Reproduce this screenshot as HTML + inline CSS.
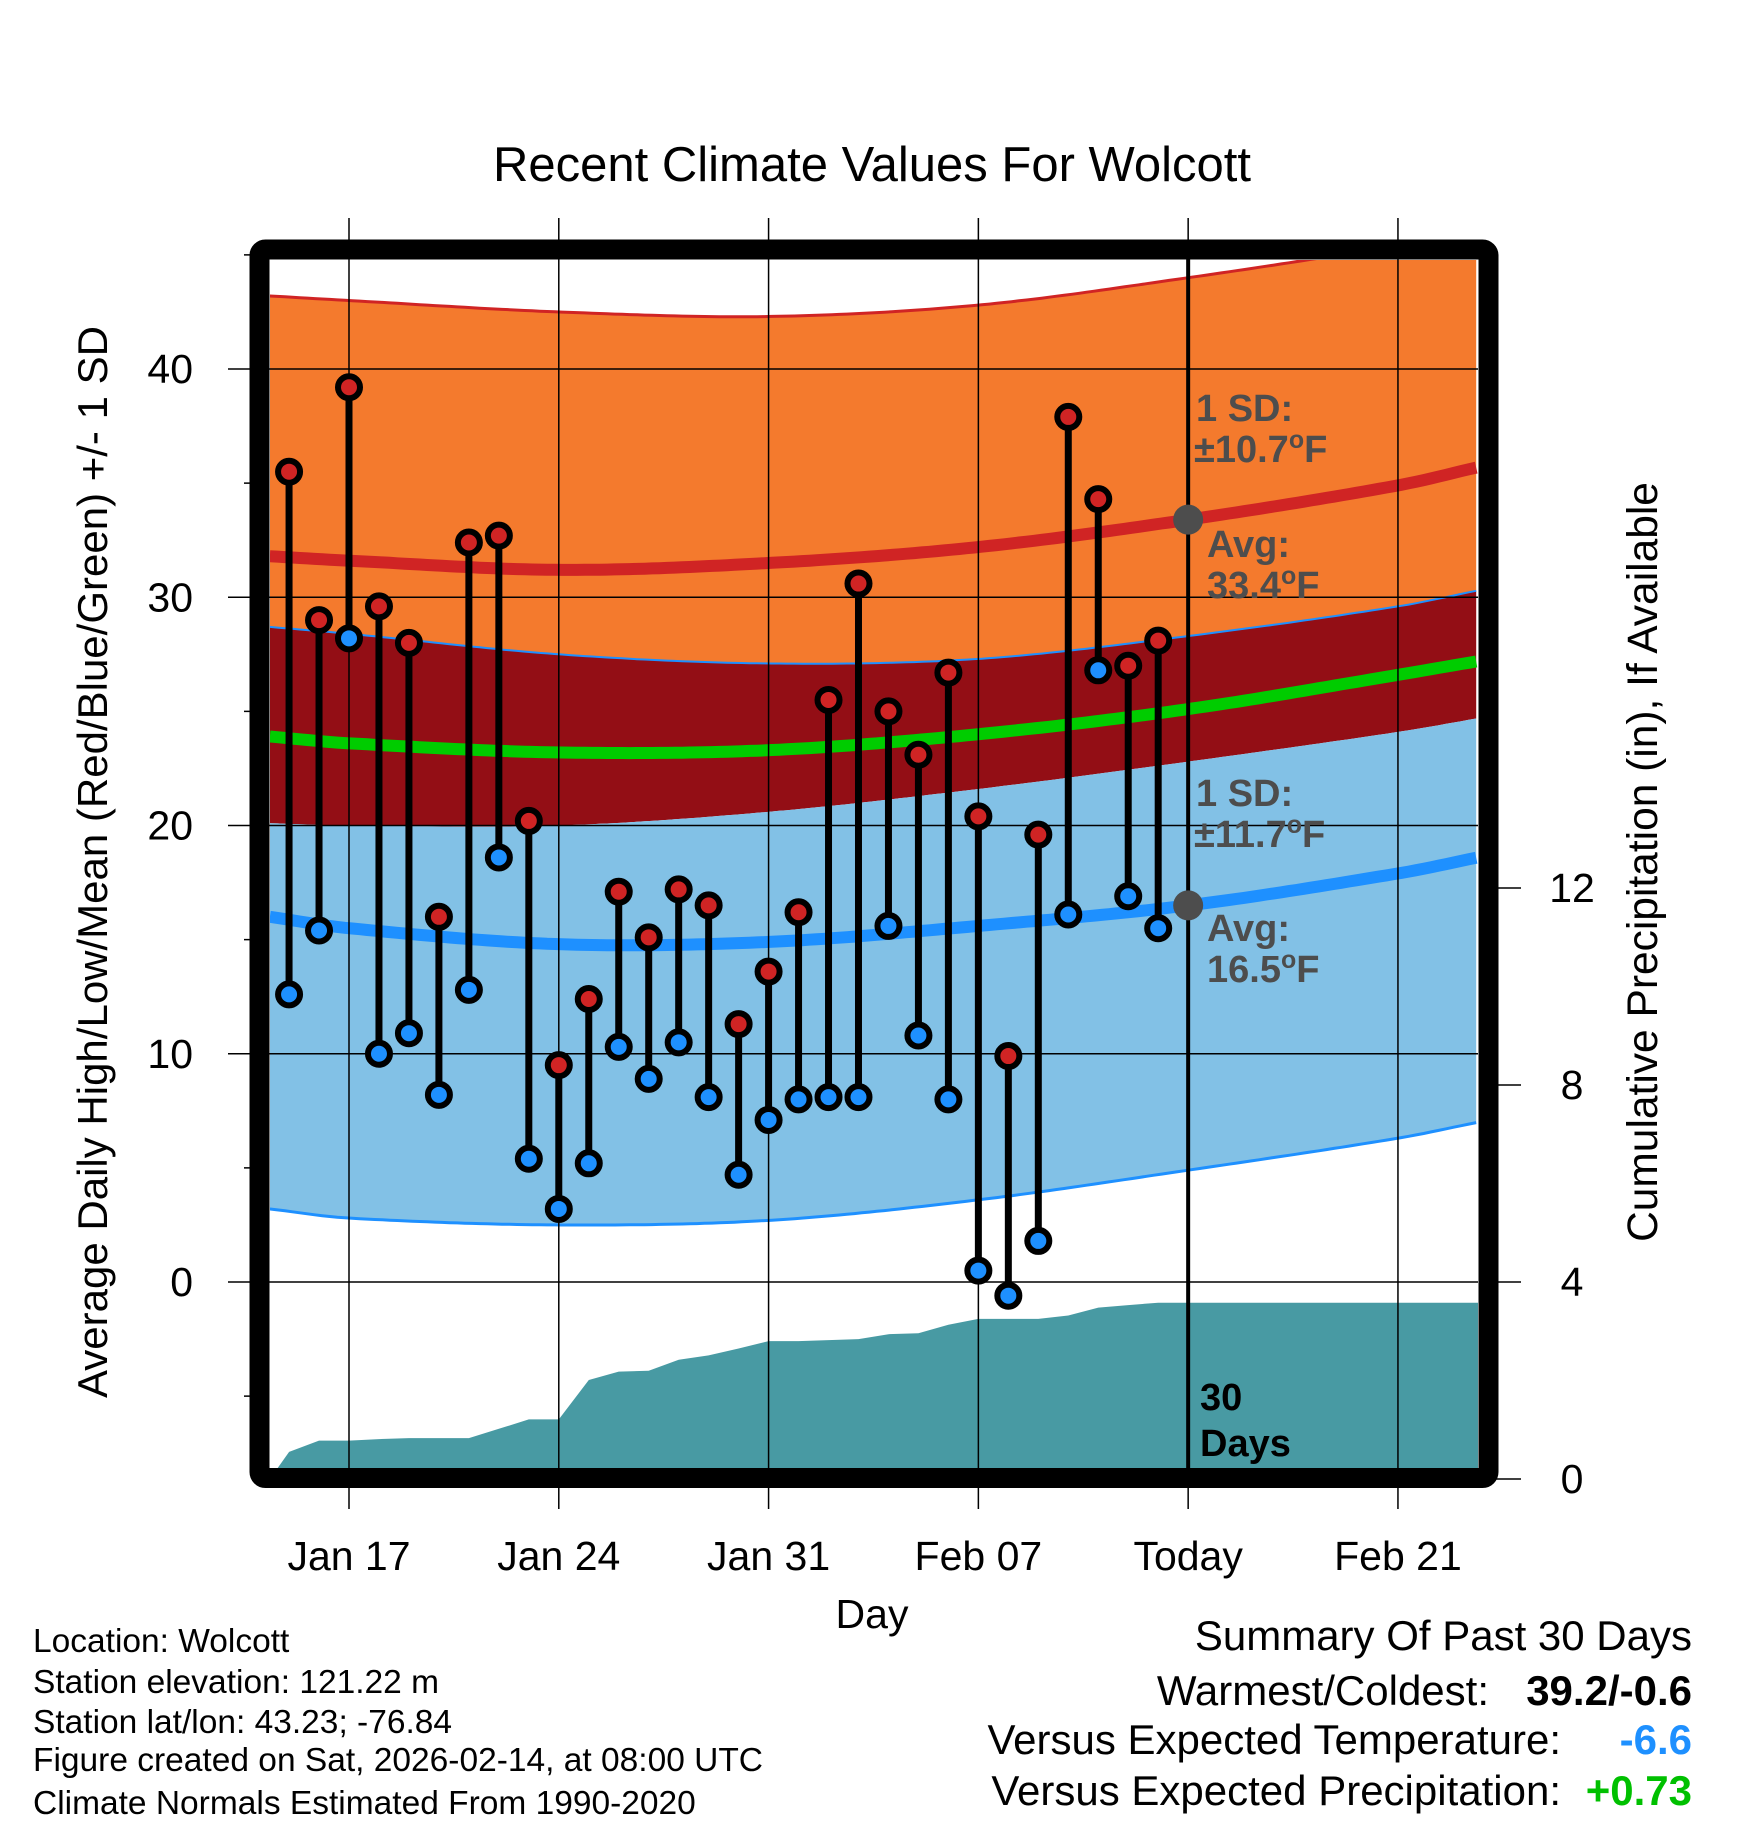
<!DOCTYPE html>
<html><head><meta charset="utf-8"><style>
html,body{margin:0;padding:0;background:#fff}
svg{display:block;font-family:"Liberation Sans",sans-serif}
</style></head><body>
<svg id="chart" width="1748" height="1828" viewBox="0 0 1748 1828">
<defs><clipPath id="plotclip"><rect x="270" y="260" width="1208" height="1208"/></clipPath></defs>
<text x="872" y="181" font-size="49" text-anchor="middle">Recent Climate Values For Wolcott</text>
<g id="bands" clip-path="url(#plotclip)"></g>
<g id="grid"></g>
<g id="marks"></g>
<rect x="259.5" y="249.5" width="1229" height="1228.5" rx="6" fill="none" stroke="#000" stroke-width="20"/>
<g id="axes"></g>
<g font-family="Liberation Sans, sans-serif" font-size="33.5">
<text x="33" y="1652">Location: Wolcott</text>
<text x="33" y="1693">Station elevation: 121.22 m</text>
<text x="33" y="1733">Station lat/lon: 43.23; -76.84</text>
<text x="33" y="1771">Figure created on Sat, 2026-02-14, at 08:00 UTC</text>
<text x="33" y="1814">Climate Normals Estimated From 1990-2020</text>
</g>
<g font-size="42" text-anchor="end">
<text x="1692" y="1650">Summary Of Past 30 Days</text>
<text x="1489" y="1705">Warmest/Coldest:</text>
<text x="1692" y="1705" font-weight="bold">39.2/-0.6</text>
<text x="1561" y="1754">Versus Expected Temperature:</text>
<text x="1692" y="1754" font-weight="bold" fill="#1E90FF">-6.6</text>
<text x="1561" y="1805">Versus Expected Precipitation:</text>
<text x="1692" y="1805" font-weight="bold" fill="#00C000">+0.73</text>
</g>
</svg>
<script>
const normDays=[-2.64,0,7,14,21,28,35,37.67];
const highUpper=[43.2,43.0,42.5,42.3,42.8,44.0,45.4,46.0];
const highAvg=[31.8,31.6,31.2,31.5,32.2,33.4,34.9,35.7];
const lowUpper=[28.7,28.4,27.5,27.1,27.3,28.3,29.6,30.3];
const meanAvg=[23.9,23.6,23.2,23.3,24.0,25.1,26.6,27.2];
const highLower=[20.1,20.0,20.0,20.6,21.6,22.8,24.1,24.7];
const lowAvg=[16.0,15.5,14.8,14.9,15.6,16.5,17.9,18.6];
const lowLower=[3.2,2.8,2.5,2.7,3.6,4.9,6.3,7.0];
const highs=[35.5,29.0,39.2,29.6,28.0,16.0,32.4,32.7,20.2,9.5,12.4,17.1,15.1,17.2,16.5,11.3,13.6,16.2,25.5,30.6,25.0,23.1,26.7,20.4,9.9,19.6,37.9,34.3,27.0,28.1];
const lows=[12.6,15.4,28.2,10.0,10.9,8.2,12.8,18.6,5.4,3.2,5.2,10.3,8.9,10.5,8.1,4.7,7.1,8.0,8.1,8.1,15.6,10.8,8.0,0.5,-0.6,1.8,16.1,26.8,16.9,15.5];
const precip=[0.55,0.78,0.78,0.81,0.83,0.83,0.83,1.02,1.21,1.21,2.01,2.18,2.2,2.42,2.51,2.65,2.8,2.8,2.82,2.84,2.94,2.96,3.13,3.25,3.25,3.25,3.32,3.48,3.53,3.58,3.58];
const xTickDays=[0,7,14,21,28,35];
const xTickLabels=["Jan 17","Jan 24","Jan 31","Feb 07","Today","Feb 21"];
const yTicks=[0,10,20,30,40];
const pTicks=[0,4,8,12];
const firstDay=-2;
const X=d=>349+29.97*d;
const Y=v=>1282-22.825*v;
const YP=p=>1479-49.25*p;
const NS='http://www.w3.org/2000/svg';
function mk(tag,attrs,parent){const e=document.createElementNS(NS,tag);for(const k in attrs)e.setAttribute(k,attrs[k]);parent.appendChild(e);return e;}
function interp(arr,d){const n=normDays.length;for(let i=0;i<n-1;i++){if(d<=normDays[i+1]||i===n-2){const x0=normDays[i],x1=normDays[i+1];const t=Math.min(Math.max((d-x0)/(x1-x0),0),1);const h=x1-x0;
const m0=i>0?(arr[i+1]-arr[i-1])/(normDays[i+1]-normDays[i-1]):(arr[i+1]-arr[i])/h;
const m1=i<n-2?(arr[i+2]-arr[i])/(normDays[i+2]-normDays[i]):(arr[i+1]-arr[i])/h;
const t2=t*t,t3=t2*t;return (2*t3-3*t2+1)*arr[i]+(t3-2*t2+t)*h*m0+(-2*t3+3*t2)*arr[i+1]+(t3-t2)*h*m1;}}return arr[arr.length-1];}
function curvePts(arr){const p=[];for(let d=-2.64;d<=37.7;d+=0.25)p.push([X(d),Y(interp(arr,d))]);return p;}
function line(p){return p.map((q,i)=>(i?'L':'M')+q[0].toFixed(1)+' '+q[1].toFixed(1)).join(' ');}
function band(a,b){const pa=curvePts(a),pb=curvePts(b).reverse();return line(pa)+' '+pb.map(q=>'L'+q[0].toFixed(1)+' '+q[1].toFixed(1)).join(' ')+' Z';}
const bands=document.getElementById('bands');
let e;
e=mk('path',{d:band(highUpper,lowUpper),fill:'#F47A2D'},bands);

e=mk('path',{d:band(lowUpper,highLower),fill:'#930E15'},bands);

e=mk('path',{d:band(highLower,lowLower),fill:'#82C1E6'},bands);

e=mk('path',{d:line(curvePts(highUpper)),fill:'none',stroke:'#D02424',"stroke-width":3},bands);

e=mk('path',{d:line(curvePts(lowUpper)),fill:'none',stroke:'#1E90FF',"stroke-width":2},bands);

e=mk('path',{d:line(curvePts(lowLower)),fill:'none',stroke:'#1E90FF',"stroke-width":3},bands);

e=mk('path',{d:line(curvePts(highAvg)),fill:'none',stroke:'#D02424',"stroke-width":12},bands);

e=mk('path',{d:line(curvePts(meanAvg)),fill:'none',stroke:'#00CC00',"stroke-width":12},bands);

e=mk('path',{d:line(curvePts(lowAvg)),fill:'none',stroke:'#1E90FF',"stroke-width":12},bands);

let pd='M'+X(-2.64)+' '+YP(0);
precip.forEach((p,i)=>{pd+=' L'+X(firstDay+i).toFixed(1)+' '+YP(p).toFixed(1);});
pd+=' L'+X(37.7)+' '+YP(precip[precip.length-1]).toFixed(1)+' L'+X(37.7)+' 1470 L'+X(-2.64)+' 1470 Z';
e=mk('path',{d:pd,fill:'#489AA3'},bands);

const grid=document.getElementById('grid');
xTickDays.forEach(d=>{e=mk('line',{x1:X(d),x2:X(d),y1:218,y2:1509,stroke:'#000',"stroke-width":1.5},grid);
});
yTicks.forEach(v=>{e=mk('line',{x1:228,x2:1478,y1:Y(v),y2:Y(v),stroke:'#000',"stroke-width":1.5},grid);
});
[-5,5,15,25,35,45].forEach(v=>{e=mk('line',{x1:244,x2:262,y1:Y(v),y2:Y(v),stroke:'#000',"stroke-width":1.5},grid);
});
pTicks.forEach(p=>{e=mk('line',{x1:1490,x2:1521,y1:YP(p),y2:YP(p),stroke:'#000',"stroke-width":1.5},grid);
});
e=mk('line',{x1:X(28),x2:X(28),y1:250,y2:1470,stroke:'#000',"stroke-width":4},grid);

const marks=document.getElementById('marks');
highs.forEach((h,i)=>{const x=X(firstDay+i);
e=mk('line',{x1:x,x2:x,y1:Y(h),y2:Y(lows[i]),stroke:'#000',"stroke-width":7},marks);
});
highs.forEach((h,i)=>{const x=X(firstDay+i);
e=mk('circle',{cx:x,cy:Y(lows[i]),r:11,fill:'#1E90FF',stroke:'#000',"stroke-width":6},marks);

e=mk('circle',{cx:x,cy:Y(h),r:11,fill:'#D02424',stroke:'#000',"stroke-width":6},marks);
});
e=mk('circle',{cx:X(28),cy:Y(33.4),r:15,fill:'#4d4d4d'},marks);

e=mk('circle',{cx:X(28),cy:Y(16.5),r:15,fill:'#4d4d4d'},marks);

function txt(s,attrs,parent,name){const t=mk('text',attrs,parent);t.innerHTML=s;return t;}
const ann={fill:'#4d4d4d',"font-size":38,"font-weight":"bold"};
txt('1 SD:',Object.assign({x:1196,y:421},ann),marks,'high-sd-label');
txt('±10.7<tspan dy="-14" font-size="25">o</tspan><tspan dy="14">F</tspan>',Object.assign({x:1194,y:462},ann),marks,'high-sd-value');
txt('Avg:',Object.assign({x:1207,y:557},ann),marks,'avg-high-label');
txt('33.4<tspan dy="-14" font-size="25">o</tspan><tspan dy="14">F</tspan>',Object.assign({x:1207,y:598},ann),marks,'avg-high-value');
txt('1 SD:',Object.assign({x:1196,y:806},ann),marks,'low-sd-label');
txt('±11.7<tspan dy="-14" font-size="25">o</tspan><tspan dy="14">F</tspan>',Object.assign({x:1194,y:847},ann),marks,'low-sd-value');
txt('Avg:',Object.assign({x:1207,y:941},ann),marks,'avg-low-label');
txt('16.5<tspan dy="-14" font-size="25">o</tspan><tspan dy="14">F</tspan>',Object.assign({x:1207,y:982},ann),marks,'avg-low-value');
txt('30',{x:1200,y:1410,"font-size":38,"font-weight":"bold"},marks,'days-count-label');
txt('Days',{x:1200,y:1456,"font-size":38,"font-weight":"bold"},marks,'days-label');
const axes=document.getElementById('axes');
xTickDays.forEach((d,i)=>txt(xTickLabels[i],{x:X(d),y:1570,"font-size":41,"text-anchor":"middle"},axes,'x-tick-label'));
yTicks.forEach(v=>txt(String(v),{x:193,y:Y(v)+14,"font-size":41,"text-anchor":"end"},axes,'y-tick-label'));
pTicks.forEach(p=>txt(String(p),{x:1572,y:YP(p)+14,"font-size":41,"text-anchor":"middle"},axes,'precip-tick-label'));
txt('Day',{x:872,y:1628,"font-size":41,"text-anchor":"middle"},axes,'x-axis-title');
txt('Average Daily High/Low/Mean (Red/Blue/Green) +/- 1 SD',{x:0,y:0,"font-size":42,"text-anchor":"middle",transform:"translate(107,862) rotate(-90)"},axes,'y-axis-title');
txt('Cumulative Precipitation (in), If Available',{x:0,y:0,"font-size":42.5,"text-anchor":"middle",transform:"translate(1657,862) rotate(-90)"},axes,'precip-axis-title');
</script>
</body></html>
